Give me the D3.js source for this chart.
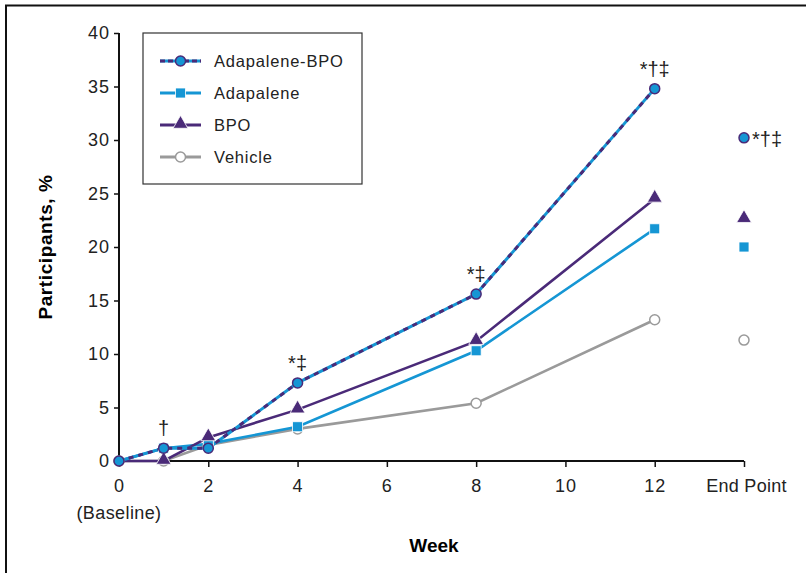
<!DOCTYPE html>
<html>
<head>
<meta charset="utf-8">
<script src="https://cdn.jsdelivr.net/npm/d3@7"></script>
<style>
  body { margin: 0; background: #fff; }
  svg { font-family: "Liberation Sans", Arial, sans-serif; }
  .tick text { font-size: 18px; fill: #222; letter-spacing: 1px; }
</style>
</head>
<body>
<div id="svg-container"></div>
<script>
// data
const weeks = [0, 1, 2, 4, 8, 12];
const endWeek = 14; // "End Point" slot on the x axis
const seriesNames = ["Adapalene-BPO", "Adapalene", "BPO", "Vehicle"];
const adapBpo = [0, 1.2, 1.2, 7.3, 15.6, 34.8];
const adap = [0, 1.2, 1.6, 3.2, 10.3, 21.7];
const bpo = [0, 0, 2.2, 4.8, 11.2, 24.5];
const vehicle = [0, 0, 1.5, 3.0, 5.4, 13.2];
const endPoint = [30.2, 20.0, 22.6, 11.3];
const xTicks = [0, 2, 4, 6, 8, 10, 12, 14];
const yTicks = [0, 5, 10, 15, 20, 25, 30, 35, 40];
const notes = [
  { week: 1, value: 1.2, text: "†" },
  { week: 4, value: 7.3, text: "*‡" },
  { week: 8, value: 15.6, text: "*‡" },
  { week: 12, value: 34.8, text: "*†‡" }
];

const width = 806, height = 573;
const margin = { top: 33, right: 62, bottom: 112, left: 119 };
const purple = "#4a2a78", blue = "#1596d4", gray = "#9a9a9a";

const svg = d3.select("#svg-container").append("svg")
  .attr("width", width).attr("height", height);

// frame (left + top edges)
svg.append("path").attr("d", `M6,${height} V5.5 H${width}`)
  .attr("fill", "none").attr("stroke", "#111").attr("stroke-width", 2);

const x = d3.scaleLinear().domain([0, 14]).range([margin.left, width - margin.right]);
const y = d3.scaleLinear().domain([0, 40]).range([height - margin.bottom, margin.top]);

// axes
const xAxis = d3.axisBottom(x).tickValues(xTicks).tickSize(6).tickPadding(12)
  .tickFormat(d => d === 14 ? "End Point" : d);
const yAxis = d3.axisLeft(y).tickValues(yTicks).tickSize(5).tickPadding(4);

const gx = svg.append("g").attr("transform", `translate(0,${y(0)})`).call(xAxis);
const gy = svg.append("g").attr("transform", `translate(${margin.left},0)`).call(yAxis);
[gx, gy].forEach(g => {
  g.select(".domain").attr("stroke", "#111").attr("stroke-width", 2)
    .attr("d", g === gx ? `M${x(0)},0H${x(14)}` : `M0,${y(0)}V${y(40)}`);
  g.selectAll(".tick line").attr("stroke", "#111").attr("stroke-width", 1.5);
});
gx.select(".tick:last-of-type text").attr("dx", "2px").style("letter-spacing", "0.3px");
gx.append("text").attr("x", x(0)).attr("y", 58).attr("fill", "#222")
  .attr("text-anchor", "middle").style("font-size", "18px").style("letter-spacing", "0.4px")
  .text("(Baseline)");

// axis titles
svg.append("text").attr("x", 434).attr("y", 552).attr("text-anchor", "middle")
  .style("font-size", "19px").style("font-weight", "bold").text("Week");
svg.append("text").attr("transform", `translate(52,${(y(0) + y(40)) / 2}) rotate(-90)`)
  .attr("text-anchor", "middle").style("font-size", "19px").style("font-weight", "bold")
  .style("letter-spacing", "0.6px").text("Participants, %");

const line = d3.line().x((d, i) => x(weeks[i])).y(d => y(d));
const tri = d3.symbol().type(d3.symbolTriangle).size(95);

// vehicle
svg.append("path").datum(vehicle).attr("d", line).attr("fill", "none")
  .attr("stroke", gray).attr("stroke-width", 2.6);
// adapalene
svg.append("path").datum(adap).attr("d", line).attr("fill", "none")
  .attr("stroke", blue).attr("stroke-width", 2.6);
// bpo
svg.append("path").datum(bpo).attr("d", line).attr("fill", "none")
  .attr("stroke", purple).attr("stroke-width", 2.6);
// adapalene-bpo: blue line with purple dashes
svg.append("path").datum(adapBpo).attr("d", line).attr("fill", "none")
  .attr("stroke", blue).attr("stroke-width", 3);
svg.append("path").datum(adapBpo).attr("d", line).attr("fill", "none")
  .attr("stroke", purple).attr("stroke-width", 3).attr("stroke-dasharray", "5,5");

// markers
function circleMark(g, cx, cy, fill, stroke) {
  g.append("circle").attr("cx", cx).attr("cy", cy).attr("r", 5)
    .attr("fill", fill).attr("stroke", stroke).attr("stroke-width", 1.5);
}
function squareMark(g, cx, cy) {
  g.append("rect").attr("x", cx - 5).attr("y", cy - 5).attr("width", 10).attr("height", 10)
    .attr("fill", blue).attr("stroke", "#fff").attr("stroke-width", 0.8);
}
function triMark(g, cx, cy) {
  g.append("path").attr("d", tri).attr("transform", `translate(${cx},${cy - 1})`)
    .attr("fill", purple).attr("stroke", "#fff").attr("stroke-width", 0.8);
}

const marks = svg.append("g");
vehicle.forEach((v, i) => circleMark(marks, x(weeks[i]), y(v), "#fff", gray));
adap.forEach((v, i) => { if (i > 0) squareMark(marks, x(weeks[i]), y(v)); });
bpo.forEach((v, i) => { if (i > 0) triMark(marks, x(weeks[i]), y(v)); });
adapBpo.forEach((v, i) => circleMark(marks, x(weeks[i]), y(v), blue, purple));

// end point markers
circleMark(marks, x(endWeek), y(endPoint[0]), blue, purple);
squareMark(marks, x(endWeek), y(endPoint[1]));
triMark(marks, x(endWeek), y(endPoint[2]));
circleMark(marks, x(endWeek), y(endPoint[3]), "#fff", gray);

// significance notes
svg.selectAll(".note").data(notes).enter().append("text")
  .attr("x", d => x(d.week)).attr("y", d => y(d.value) - 13)
  .attr("text-anchor", "middle").style("font-size", "20px").attr("fill", "#222")
  .text(d => d.text);
svg.append("text").attr("x", x(endWeek) + 8).attr("y", y(endPoint[0]) + 8)
  .style("font-size", "20px").attr("fill", "#222").text("*†‡");

// legend
const legend = svg.append("g");
legend.append("rect").attr("x", 143).attr("y", 33).attr("width", 219).attr("height", 151)
  .attr("fill", "#fff").attr("stroke", "#333").attr("stroke-width", 1.2);
seriesNames.forEach((name, i) => {
  const ly = 61 + i * 32;
  const g = legend.append("g");
  if (i === 0) {
    g.append("line").attr("x1", 160).attr("x2", 201).attr("y1", ly).attr("y2", ly)
      .attr("stroke", blue).attr("stroke-width", 3);
    g.append("line").attr("x1", 160).attr("x2", 201).attr("y1", ly).attr("y2", ly)
      .attr("stroke", purple).attr("stroke-width", 3).attr("stroke-dasharray", "5,3");
    circleMark(g, 180.5, ly, blue, purple);
  } else {
    const c = [null, blue, purple, gray][i];
    g.append("line").attr("x1", 160).attr("x2", 201).attr("y1", ly).attr("y2", ly)
      .attr("stroke", c).attr("stroke-width", 3);
    if (i === 1) squareMark(g, 180.5, ly);
    if (i === 2) triMark(g, 180.5, ly);
    if (i === 3) circleMark(g, 180.5, ly, "#fff", gray);
  }
  g.append("text").attr("x", 214).attr("y", ly + 6).style("font-size", "16.5px")
    .style("letter-spacing", "0.8px").attr("fill", "#222").text(name);
});
</script>
</body>
</html>
